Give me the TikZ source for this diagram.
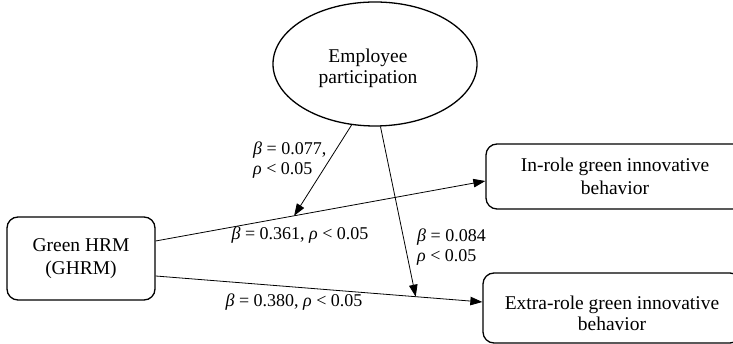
\documentclass[tikz,border=0pt]{standalone}
\usepackage{fontspec}
\setmainfont{Liberation Serif}
\usetikzlibrary{arrows.meta,shapes.geometric,calc}
\begin{document}
\begin{tikzpicture}[x=1pt,y=1pt,
  box/.style={draw, line width=1.3pt, rounded corners=11pt, align=center,
    font=\fontsize{19.5}{22.5}\selectfont, inner sep=0pt},
  boxtext/.style={align=center, font=\fontsize{19.5}{21.5}\selectfont, inner sep=0pt},
  oval/.style={draw, ellipse, line width=1.3pt, inner sep=0pt},
  lbl/.style={font=\fontsize{18}{20}\selectfont, inner sep=0pt},
  arr/.style={line width=0.8pt, -{Triangle[length=12pt,width=8.5pt]}},
  ln/.style={line width=0.8pt}
]
\clip (0,0) rectangle (733,344);
\fill[white] (0,0) rectangle (733,344);
\node[oval, minimum width=204pt, minimum height=124pt] (ep) at (375,280) {};
\node[boxtext] (eptext) at (368,275.5) {Employee\\participation};
\node[box, minimum width=148pt, minimum height=83pt] (ghrm) at (81,85.5) {Green HRM\\(GHRM)};
\node[box, minimum width=258pt, minimum height=65pt] (inrole) at (615,167.5) {In-role green innovative\\behavior};
\node[box, minimum width=258pt, minimum height=70pt] (extra) at (612,36) {};
\node[boxtext] (extratext) at (612,30.5) {Extra-role green innovative\\behavior};
\draw[arr] ([yshift=17.5pt]ghrm.east) -- ([yshift=-4.5pt]inrole.west) coordinate[pos=0.42] (m1);
\draw[arr] ([yshift=-17.5pt]ghrm.east) -- ([yshift=6pt]extra.west) coordinate[pos=0.796] (m2);
\draw[arr] (ep.249) -- (m1);
\draw[arr] (ep.275) -- (m2);
\node[lbl, anchor=west, align=left] (l1) at (253,184) {\textit{β} = 0.077,\\\textit{ρ} < 0.05};
\node[lbl] (l2) at (300,109) {\textit{β} = 0.361, \textit{ρ} < 0.05};
\node[lbl, anchor=west, align=left] (l3) at (417,97) {\textit{β} = 0.084\\\textit{ρ} < 0.05};
\node[lbl] (l4) at (294,41.5) {\textit{β} = 0.380, \textit{ρ} < 0.05};
\end{tikzpicture}
\end{document}
